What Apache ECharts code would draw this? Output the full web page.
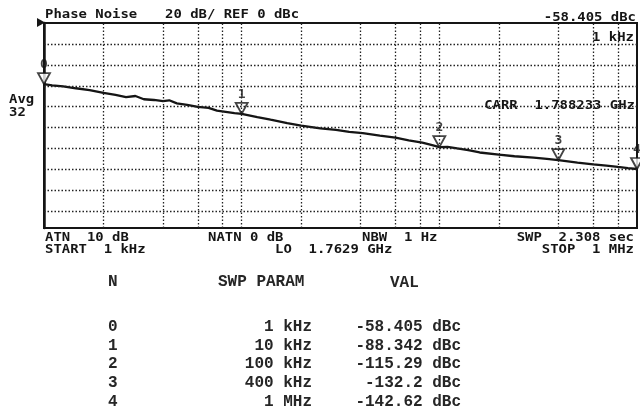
<!DOCTYPE html>
<html>
<head>
<meta charset="utf-8">
<script src="https://cdn.jsdelivr.net/npm/echarts@6/dist/echarts.min.js"></script>
<style>
html,body{margin:0;padding:0;background:#fff;}
#chart{width:640px;height:418px;}
</style>
</head>
<body>
<div id="chart"></div>
<script>
// ---- data ----
const traceFreqHz = [1000,1100,1250,1450,1700,2000,2300,2600,2900,3200,3600,4000,4300,4700,5300,6000,6800,7500,8300,9200,10000,
  12000,14000,17000,20000,25000,30000,35000,41000,50000,60000,70000,82000,92000,100000,
  110000,123000,140000,160000,200000,240000,300000,350000,400000,500000,600000,700000,800000,900000,1000000];
const traceDbc = [-58.4,-59.6,-60.6,-62.4,-64.1,-66.9,-68.7,-70.9,-69.8,-72.9,-73.6,-74.6,-73.9,-76.9,-78.3,-80.2,-81.2,-83.8,-84.9,-86.2,-86.8,
  -89.9,-92.5,-95.7,-98.1,-100.7,-102.1,-104.0,-105.2,-107.7,-109.6,-112.2,-114.4,-116.7,-118.6,
  -118.4,-119.9,-121.5,-123.8,-125.9,-127.4,-128.8,-130.0,-131.2,-133.4,-135.1,-136.3,-137.6,-138.7,-139.6];
const markerN = [0,1,2,3,4];
const markerFreqHz = [1000,10000,100000,400000,1000000];
const markerTraceDbc = [-58.4,-86.8,-118.6,-131.2,-139.6];
const tableFreqLabels = ['1 kHz','10 kHz','100 kHz','400 kHz','1 MHz'];
const tableValLabels = ['-58.405 dBc','-88.342 dBc','-115.29 dBc','-132.2 dBc','-142.62 dBc'];
const hGridDb = [-20,-40,-60,-80,-100,-120,-140,-160,-180];
const vGridHz = [2000,4000,6000,8000,10000,20000,40000,60000,80000,100000,200000,400000,600000,800000];

// ---- chart ----
const chart = echarts.init(document.getElementById('chart'), null, {renderer:'canvas'});
const ink = '#151515';
const pf = 'bold 12px "DejaVu Sans Mono"';
const tf = 'bold 16px "Liberation Mono"';
function ptext(x, y, text, align){
  return {type:'text', x:x, y:y, scaleX:1.16, silent:true,
    style:{text:text, font:pf, fill:ink, textAlign:align||'left', textVerticalAlign:'middle'}};
}
function ttext(x, y, text, align){
  return {type:'text', x:x, y:y, silent:true,
    style:{text:text, font:tf, fill:'#262626', textAlign:align||'left', textVerticalAlign:'middle'}};
}
const graphics = [
  ptext(45,15,'Phase Noise'),
  ptext(165,15,'20 dB/ REF 0 dBc'),
  ptext(636,18,'-58.405 dBc','right'),
  ptext(634,38,'1 kHz','right'),
  ptext(635,106,'CARR  1.788233 GHz','right'),
  ptext(9,100,'Avg'),
  ptext(9,113,'32'),
  ptext(45,238,'ATN  10 dB'),
  ptext(45,250,'START  1 kHz'),
  ptext(208,238,'NATN 0 dB'),
  ptext(275,250,'LO  1.7629 GHz'),
  ptext(362,238,'NBW  1 Hz'),
  ptext(634,238,'SWP  2.308 sec','right'),
  ptext(634,250,'STOP  1 MHz','right'),
  {type:'polygon', silent:true, shape:{points:[[37,18],[45,22.5],[37,27]]}, style:{fill:ink}},
  ttext(108,282,'N'),
  ttext(218,282,'SWP PARAM'),
  ttext(390,283,'VAL')
];
markerN.forEach(function(n,i){
  const y = 327 + i*18.7;
  graphics.push(ttext(108,y,String(n)));
  graphics.push(ttext(312,y,tableFreqLabels[i],'right'));
  graphics.push(ttext(461,y,tableValLabels[i],'right'));
});

const option = {
  backgroundColor:'#fff',
  animation:false,
  grid:{left:44,right:3,top:23,bottom:190,show:true,borderColor:ink,borderWidth:2,backgroundColor:'transparent'},
  xAxis:{type:'log',logBase:10,min:1000,max:1000000,
    axisLine:{show:false},axisTick:{show:false},axisLabel:{show:false},splitLine:{show:false},minorSplitLine:{show:false}},
  yAxis:{type:'value',min:-196,max:0,
    axisLine:{show:true,onZero:false,lineStyle:{color:ink,width:2.5}},axisTick:{show:false},axisLabel:{show:false},splitLine:{show:false}},
  series:[
    {type:'line',name:'grid',data:[],silent:true,
      markLine:{silent:true,symbol:['none','none'],label:{show:false},animation:false,
        lineStyle:{color:'#222',type:[1.5,2],width:1.3},
        data:hGridDb.map(function(v){return {yAxis:v};}).concat(vGridHz.map(function(v){return {xAxis:v};}))}},
    {type:'line',name:'trace',showSymbol:false,symbol:'none',silent:true,
      lineStyle:{color:ink,width:2.3},
      data:traceFreqHz.map(function(f,i){return [f,traceDbc[i]];})},
    {type:'scatter',name:'markers',clip:false,silent:true,
      symbol:'triangle',symbolRotate:180,symbolSize:[12,11],symbolOffset:[0,-5.5],
      itemStyle:{color:'#fff',borderColor:ink,borderWidth:1.8},
      label:{show:true,position:'top',distance:1,formatter:function(p){return String(p.data[2]);},
        fontFamily:'DejaVu Sans Mono',fontWeight:'bold',fontSize:13,color:ink},
      data:markerFreqHz.map(function(f,i){return [f,markerTraceDbc[i],markerN[i]];})}
  ],
  graphic:graphics
};
chart.setOption(option);
</script>
</body>
</html>
